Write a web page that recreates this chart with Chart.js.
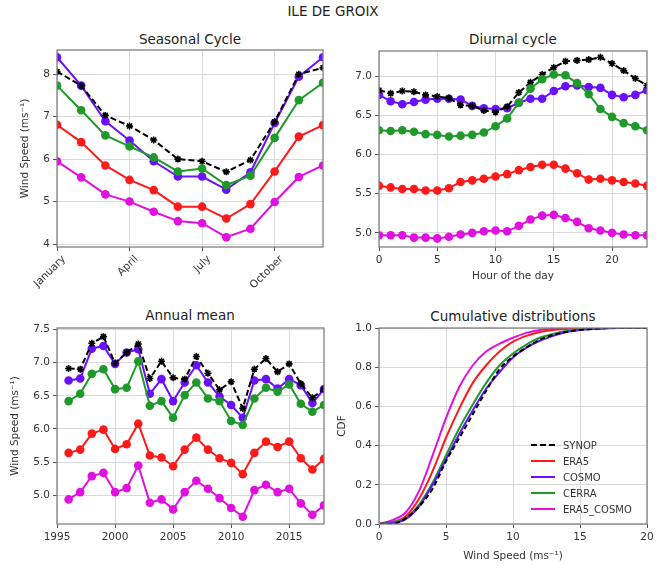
<!DOCTYPE html>
<html>
<head>
<meta charset="utf-8">
<script src="https://cdn.jsdelivr.net/npm/chart.js@4.4.0/dist/chart.umd.min.js"></script>
<style>
  body { margin: 0; background: #fff; width: 670px; height: 571px; position: relative; overflow: hidden; font-family: 'DejaVu Sans', sans-serif; color: #222; }
  canvas { position: absolute; }
  .ttl { position: absolute; font-size: 13.5px; white-space: nowrap; transform: translate(-50%, -50%); }
  .legend { position: absolute; left: 531px; top: 437px; font-size: 10px; color: #333; }
  .legend div { height: 16px; display: flex; align-items: center; }
  .legend i { display: inline-block; width: 24px; height: 0; border-top: 2px solid; margin-right: 8px; }
</style>
</head>
<body>
<div class="ttl" style="left:333px;top:11px">ILE DE GROIX</div>
<div class="ttl" style="left:190px;top:39px">Seasonal Cycle</div>
<div class="ttl" style="left:513px;top:39px">Diurnal cycle</div>
<div class="ttl" style="left:190px;top:315px">Annual mean</div>
<div class="ttl" style="left:513px;top:316px">Cumulative distributions</div>

<canvas id="seasonal" width="318" height="252" style="left:15px;top:40px"></canvas>
<canvas id="diurnal" width="315" height="246" style="left:344px;top:41px"></canvas>
<canvas id="annual" width="329" height="231" style="left:5px;top:318px"></canvas>
<canvas id="cdf" width="327" height="249" style="left:332px;top:318px"></canvas>

<div class="legend">
  <div><i style="border-top:2px dashed #000"></i>SYNOP</div>
  <div><i style="border-color:#ff1a1a"></i>ERA5</div>
  <div><i style="border-color:#6a10ff"></i>COSMO</div>
  <div><i style="border-color:#1f9a2a"></i>CERRA</div>
  <div><i style="border-color:#e010e0"></i>ERA5_COSMO</div>
</div>

<script>
// seasonal cycle (monthly means)
const months = ["January", "February", "March", "April", "May", "June", "July", "August", "September", "October", "November", "December"];
const seasonalSynop = [8.06, 7.73, 7.03, 6.78, 6.45, 6.00, 5.95, 5.70, 5.98, 6.88, 8.00, 8.15];
const seasonalEra5 = [6.81, 6.40, 5.85, 5.51, 5.27, 4.88, 4.88, 4.60, 4.94, 5.71, 6.53, 6.80];
const seasonalCosmo = [8.40, 7.73, 6.89, 6.44, 5.95, 5.59, 5.59, 5.28, 5.69, 6.85, 7.94, 8.40];
const seasonalCerra = [7.73, 7.15, 6.56, 6.30, 6.04, 5.71, 5.78, 5.39, 5.61, 6.50, 7.39, 7.80];
const seasonalEra5Cosmo = [5.95, 5.57, 5.17, 5.00, 4.76, 4.54, 4.49, 4.16, 4.36, 4.99, 5.58, 5.85];

// diurnal cycle
const hours = [0, 1, 2, 3, 4, 5, 6, 7, 8, 9, 10, 11, 12, 13, 14, 15, 16, 17, 18, 19, 20, 21, 22, 23];
const diurnalSynop = [6.82, 6.78, 6.81, 6.80, 6.76, 6.74, 6.72, 6.63, 6.62, 6.56, 6.54, 6.61, 6.79, 6.92, 7.02, 7.11, 7.19, 7.20, 7.21, 7.24, 7.16, 7.07, 6.97, 6.88];
const diurnalEra5 = [5.60, 5.58, 5.56, 5.56, 5.54, 5.54, 5.57, 5.65, 5.67, 5.69, 5.72, 5.75, 5.80, 5.84, 5.87, 5.87, 5.82, 5.76, 5.68, 5.69, 5.67, 5.65, 5.63, 5.60];
const diurnalCosmo = [6.76, 6.68, 6.64, 6.67, 6.70, 6.71, 6.71, 6.70, 6.62, 6.59, 6.58, 6.59, 6.66, 6.71, 6.71, 6.81, 6.87, 6.88, 6.86, 6.85, 6.76, 6.73, 6.76, 6.82];
const diurnalCerra = [6.31, 6.30, 6.31, 6.29, 6.26, 6.25, 6.23, 6.24, 6.25, 6.28, 6.36, 6.46, 6.66, 6.84, 6.96, 7.02, 7.01, 6.91, 6.77, 6.58, 6.48, 6.40, 6.36, 6.31];
const diurnalEra5Cosmo = [4.97, 4.97, 4.97, 4.94, 4.94, 4.93, 4.95, 4.98, 5.00, 5.02, 5.03, 5.02, 5.09, 5.17, 5.22, 5.23, 5.19, 5.14, 5.06, 5.03, 5.00, 4.98, 4.97, 4.97];

// annual mean
const years = [1996, 1997, 1998, 1999, 2000, 2001, 2002, 2003, 2004, 2005, 2006, 2007, 2008, 2009, 2010, 2011, 2012, 2013, 2014, 2015, 2016, 2017, 2018];
const annualSynop = [6.91, 6.90, 7.29, 7.39, 6.99, 7.15, 7.28, 6.76, 7.02, 6.77, 6.75, 7.09, 6.84, 6.59, 6.71, 6.31, 6.90, 7.06, 6.86, 6.98, 6.68, 6.47, 6.60];
const annualEra5 = [5.64, 5.69, 5.93, 5.99, 5.70, 5.77, 6.08, 5.60, 5.57, 5.44, 5.69, 5.87, 5.69, 5.56, 5.49, 5.32, 5.64, 5.81, 5.73, 5.81, 5.56, 5.39, 5.55];
const annualCosmo = [6.73, 6.76, 7.21, 7.25, 6.98, 7.15, 7.20, 6.53, 6.75, 6.42, 6.70, 6.96, 6.70, 6.49, 6.36, 6.17, 6.73, 6.75, 6.61, 6.75, 6.66, 6.39, 6.60];
const annualCerra = [6.42, 6.53, 6.83, 6.90, 6.60, 6.62, 7.02, 6.35, 6.42, 6.17, 6.51, 6.70, 6.46, 6.42, 6.12, 6.06, 6.46, 6.62, 6.56, 6.67, 6.38, 6.26, 6.36];
const annualEra5Cosmo = [4.94, 5.05, 5.29, 5.34, 5.05, 5.11, 5.45, 4.89, 4.94, 4.79, 5.05, 5.22, 5.10, 4.96, 4.81, 4.68, 5.08, 5.16, 5.05, 5.10, 4.88, 4.71, 4.85];

// cumulative distributions
const speeds = [0, 1, 2, 3, 4, 5, 6, 7, 8, 9, 10, 11, 12, 13, 14, 15, 16, 17, 18, 19, 20];
const cdfSynop = [0, 0.0, 0.03, 0.09, 0.18, 0.32, 0.44, 0.56, 0.68, 0.79, 0.855, 0.90, 0.94, 0.965, 0.98, 0.99, 0.995, 1, 1, 1, 1];
const cdfEra5 = [0, 0.01, 0.04, 0.13, 0.27, 0.44, 0.59, 0.72, 0.81, 0.88, 0.93, 0.96, 0.98, 0.99, 0.995, 1, 1, 1, 1, 1, 1];
const cdfCosmo = [0, 0.005, 0.025, 0.09, 0.20, 0.33, 0.46, 0.58, 0.69, 0.775, 0.85, 0.90, 0.935, 0.96, 0.98, 0.99, 0.995, 0.998, 1, 1, 1];
const cdfCerra = [0, 0.01, 0.03, 0.10, 0.21, 0.35, 0.49, 0.61, 0.72, 0.81, 0.87, 0.915, 0.95, 0.97, 0.985, 0.995, 0.998, 1, 1, 1, 1];
const cdfEra5Cosmo = [0, 0.02, 0.06, 0.17, 0.35, 0.54, 0.70, 0.81, 0.88, 0.92, 0.95, 0.975, 0.99, 0.995, 1, 1, 1, 1, 1, 1, 1];

const colors = { synop: "#000000", era5: "#ff1a1a", cosmo: "#6a10ff", cerra: "#1f9a2a", era5cosmo: "#e010e0" };
const windLabel = "Wind Speed (ms\u207B\u00B9)";

Chart.defaults.font.family = "'DejaVu Sans', sans-serif";
Chart.defaults.font.size = 10.5;
Chart.defaults.color = "#333";

// matplotlib-like box around the axes
const frame = {
  id: "frame",
  afterDatasetsDraw(chart) {
    const { ctx, chartArea: a } = chart;
    ctx.save();
    ctx.strokeStyle = "#808080";
    ctx.lineWidth = 1.3;
    ctx.strokeRect(a.left, a.top, a.width, a.height);
    ctx.restore();
  }
};

function pts(xs, ys) {
  return ys.map((y, i) => ({ x: xs[i], y: y }));
}

function markerLines(xs, s) {
  const line = (label, ys, color, order) => ({
    label, data: pts(xs, ys), borderColor: color, backgroundColor: color,
    borderWidth: 2, pointRadius: 4.3, pointBorderWidth: 0, order: order, clip: 0
  });
  return [
    { label: "SYNOP", data: pts(xs, s[0]), borderColor: colors.synop, backgroundColor: colors.synop,
      borderWidth: 2, borderDash: [6, 3], pointStyle: "star", pointRadius: 3.5, pointBorderWidth: 1.6, order: 2, clip: 0 },
    line("ERA5", s[1], colors.era5, 4),
    line("COSMO", s[2], colors.cosmo, 3),
    line("CERRA", s[3], colors.cerra, 1),
    line("ERA5_COSMO", s[4], colors.era5cosmo, 5)
  ];
}

function axis(o) {
  return {
    type: "linear", min: o.min, max: o.max,
    afterFit: s => { if (o.h) s.height = o.h; if (o.w) s.width = o.w; },
    afterBuildTicks: s => { s.ticks = o.ticks.map(v => ({ value: v })); },
    grid: { color: "#dadada", lineWidth: 1, tickColor: "#555", tickLength: 4 },
    border: { display: false },
    ticks: Object.assign({ padding: 3, autoSkip: false, maxRotation: 0, minRotation: 0, callback: o.fmt }, o.tickOpts || {}),
    title: o.title ? { display: true, text: o.title, color: "#333", font: { size: 10.5 } } : { display: false }
  };
}

function makeChart(id, datasets, x, y) {
  return new Chart(document.getElementById(id), {
    type: "line",
    data: { datasets },
    options: {
      responsive: false, animation: false,
      layout: { padding: { top: 10, right: id === "cdf" || id === "diurnal" ? 12 : 10, left: 0, bottom: 0 } },
      plugins: { legend: { display: false }, tooltip: { enabled: false } },
      scales: { x: axis(x), y: axis(y) }
    },
    plugins: [frame]
  });
}

makeChart("seasonal",
  markerLines(months.map((m, i) => i), [seasonalSynop, seasonalEra5, seasonalCosmo, seasonalCerra, seasonalEra5Cosmo]),
  { min: 0, max: 11, ticks: [0, 3, 6, 9], h: 45, fmt: v => months[v],
    tickOpts: { maxRotation: 45, minRotation: 45, labelOffset: 7, padding: 2 } },
  { min: 3.93, max: 8.57, ticks: [4, 5, 6, 7, 8], w: 42, fmt: v => String(v), title: windLabel });

makeChart("diurnal",
  markerLines(hours, [diurnalSynop, diurnalEra5, diurnalCosmo, diurnalCerra, diurnalEra5Cosmo]),
  { min: 0, max: 23, ticks: [0, 5, 10, 15, 20], h: 40, fmt: v => String(v), title: "Hour of the day" },
  { min: 4.82, max: 7.32, ticks: [5, 5.5, 6, 6.5, 7], w: 35, fmt: v => v.toFixed(1) });

makeChart("annual",
  markerLines(years, [annualSynop, annualEra5, annualCosmo, annualCerra, annualEra5Cosmo]),
  { min: 1995, max: 2018, ticks: [1995, 2000, 2005, 2010, 2015], h: 25, fmt: v => String(v) },
  { min: 4.57, max: 7.52, ticks: [5, 5.5, 6, 6.5, 7, 7.5], w: 52, fmt: v => v.toFixed(1), title: windLabel });

const cdfLine = (label, ys, color, order, dash) => ({
  label, data: pts(speeds, ys), borderColor: color, borderWidth: 2, borderDash: dash || [],
  pointRadius: 0, cubicInterpolationMode: "monotone", order: order, clip: 0
});
makeChart("cdf",
  [
    cdfLine("SYNOP", cdfSynop, colors.synop, 1, [5, 3]),
    cdfLine("ERA5", cdfEra5, colors.era5, 4),
    cdfLine("COSMO", cdfCosmo, colors.cosmo, 2),
    cdfLine("CERRA", cdfCerra, colors.cerra, 3),
    cdfLine("ERA5_COSMO", cdfEra5Cosmo, colors.era5cosmo, 5)
  ],
  { min: 0, max: 20, ticks: [0, 5, 10, 15, 20], h: 43, fmt: v => String(v), title: windLabel },
  { min: 0, max: 1, ticks: [0, 0.2, 0.4, 0.6, 0.8, 1], w: 47, fmt: v => v.toFixed(1), title: "CDF" });
</script>
</body>
</html>
